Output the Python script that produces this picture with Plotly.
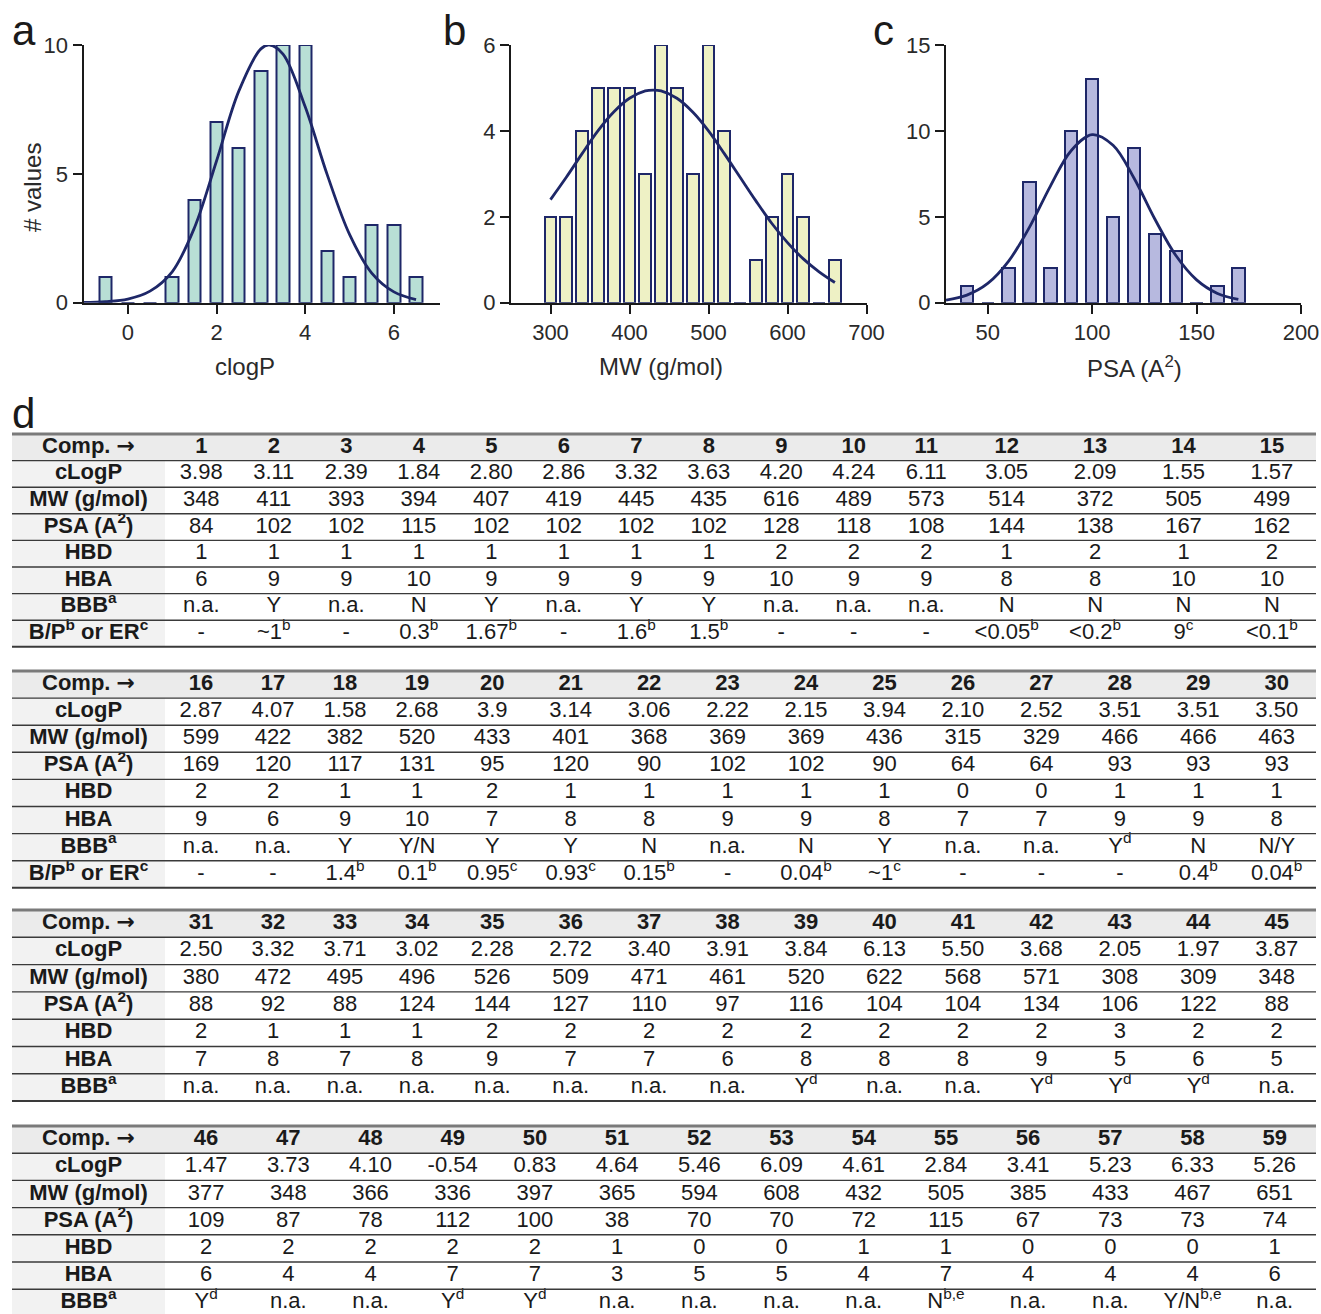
import plotly.graph_objects as go

W, H = 1321, 1314

# ---------------- histogram data ----------------
clogp_bin_centers = [-0.5, 0.0, 0.5, 1.0, 1.5, 2.0, 2.5, 3.0, 3.5, 4.0, 4.5, 5.0, 5.5, 6.0, 6.5]
clogp_counts = [1, 0, 0, 1, 4, 7, 6, 9, 10, 10, 2, 1, 3, 3, 1]
clogp_fit_x = [-1.0, -0.5, 0.0, 0.5, 1.0, 1.5, 2.0, 2.5, 3.0, 3.2, 3.5, 4.0, 4.5, 5.0, 5.5, 6.0, 6.5]
clogp_fit_y = [0.01, 0.04, 0.14, 0.45, 1.2, 2.9, 5.5, 8.2, 9.85, 10.0, 9.65, 7.6, 4.95, 2.65, 1.15, 0.42, 0.12]

mw_bin_centers = [300, 320, 340, 360, 380, 400, 420, 440, 460, 480, 500, 520, 540, 560, 580, 600, 620, 640, 660]
mw_counts = [2, 2, 4, 5, 5, 5, 3, 6, 5, 3, 6, 4, 0, 1, 2, 3, 2, 0, 1]
mw_fit_x = [300, 320, 340, 360, 380, 400, 420, 430, 440, 460, 480, 500, 520, 540, 560, 580, 600, 620, 640, 660]
mw_fit_y = [2.4, 2.92, 3.47, 4.0, 4.44, 4.76, 4.93, 4.95, 4.93, 4.76, 4.44, 4.0, 3.47, 2.92, 2.37, 1.85, 1.4, 1.02, 0.72, 0.47]

psa_bin_centers = [40, 50, 60, 70, 80, 90, 100, 110, 120, 130, 140, 150, 160, 170]
psa_counts = [1, 0, 2, 7, 2, 10, 13, 5, 9, 4, 3, 0, 1, 2]
psa_fit_x = [30, 40, 50, 60, 70, 80, 90, 100, 110, 120, 130, 140, 150, 160, 170]
psa_fit_y = [0.15, 0.44, 1.12, 2.42, 4.4, 6.79, 8.86, 9.78, 9.16, 7.26, 4.87, 2.76, 1.33, 0.54, 0.19]

# ---------------- table data ----------------
comp_ids = list(range(1, 60))
clogp_vals = ["3.98", "3.11", "2.39", "1.84", "2.80", "2.86", "3.32", "3.63", "4.20", "4.24", "6.11", "3.05", "2.09", "1.55", "1.57",
              "2.87", "4.07", "1.58", "2.68", "3.9", "3.14", "3.06", "2.22", "2.15", "3.94", "2.10", "2.52", "3.51", "3.51", "3.50",
              "2.50", "3.32", "3.71", "3.02", "2.28", "2.72", "3.40", "3.91", "3.84", "6.13", "5.50", "3.68", "2.05", "1.97", "3.87",
              "1.47", "3.73", "4.10", "-0.54", "0.83", "4.64", "5.46", "6.09", "4.61", "2.84", "3.41", "5.23", "6.33", "5.26"]
mw_vals = [348, 411, 393, 394, 407, 419, 445, 435, 616, 489, 573, 514, 372, 505, 499,
           599, 422, 382, 520, 433, 401, 368, 369, 369, 436, 315, 329, 466, 466, 463,
           380, 472, 495, 496, 526, 509, 471, 461, 520, 622, 568, 571, 308, 309, 348,
           377, 348, 366, 336, 397, 365, 594, 608, 432, 505, 385, 433, 467, 651]
psa_vals = [84, 102, 102, 115, 102, 102, 102, 102, 128, 118, 108, 144, 138, 167, 162,
            169, 120, 117, 131, 95, 120, 90, 102, 102, 90, 64, 64, 93, 93, 93,
            88, 92, 88, 124, 144, 127, 110, 97, 116, 104, 104, 134, 106, 122, 88,
            109, 87, 78, 112, 100, 38, 70, 70, 72, 115, 67, 73, 73, 74]
hbd_vals = [1, 1, 1, 1, 1, 1, 1, 1, 2, 2, 2, 1, 2, 1, 2,
            2, 2, 1, 1, 2, 1, 1, 1, 1, 1, 0, 0, 1, 1, 1,
            2, 1, 1, 1, 2, 2, 2, 2, 2, 2, 2, 2, 3, 2, 2,
            2, 2, 2, 2, 2, 1, 0, 0, 1, 1, 0, 0, 0, 1]
hba_vals = [6, 9, 9, 10, 9, 9, 9, 9, 10, 9, 9, 8, 8, 10, 10,
            9, 6, 9, 10, 7, 8, 8, 9, 9, 8, 7, 7, 9, 9, 8,
            7, 8, 7, 8, 9, 7, 7, 6, 8, 8, 8, 9, 5, 6, 5,
            6, 4, 4, 7, 7, 3, 5, 5, 4, 7, 4, 4, 4, 6]
bbb_vals = ["n.a.", "Y", "n.a.", "N", "Y", "n.a.", "Y", "Y", "n.a.", "n.a.", "n.a.", "N", "N", "N", "N",
            "n.a.", "n.a.", "Y", "Y/N", "Y", "Y", "N", "n.a.", "N", "Y", "n.a.", "n.a.", "Y<sup>d</sup>", "N", "N/Y",
            "n.a.", "n.a.", "n.a.", "n.a.", "n.a.", "n.a.", "n.a.", "n.a.", "Y<sup>d</sup>", "n.a.", "n.a.", "Y<sup>d</sup>", "Y<sup>d</sup>", "Y<sup>d</sup>", "n.a.",
            "Y<sup>d</sup>", "n.a.", "n.a.", "Y<sup>d</sup>", "Y<sup>d</sup>", "n.a.", "n.a.", "n.a.", "n.a.", "N<sup>b,e</sup>", "n.a.", "n.a.", "Y/N<sup>b,e</sup>", "n.a."]
bp_er_vals = ["-", "~1<sup>b</sup>", "-", "0.3<sup>b</sup>", "1.67<sup>b</sup>", "-", "1.6<sup>b</sup>", "1.5<sup>b</sup>", "-", "-", "-",
              "<0.05<sup>b</sup>", "<0.2<sup>b</sup>", "9<sup>c</sup>", "<0.1<sup>b</sup>",
              "-", "-", "1.4<sup>b</sup>", "0.1<sup>b</sup>", "0.95<sup>c</sup>", "0.93<sup>c</sup>", "0.15<sup>b</sup>", "-",
              "0.04<sup>b</sup>", "~1<sup>c</sup>", "-", "-", "-", "0.4<sup>b</sup>", "0.04<sup>b</sup>"]
row_labels = ["Comp. <span style=\"font-family:DejaVu Sans\">\u2192</span>", "cLogP", "MW (g/mol)", "PSA (A<sup>2</sup>)", "HBD", "HBA",
              "BBB<sup>a</sup>", "B/P<sup>b</sup> or ER<sup>c</sup>"]

# ---------------- styles ----------------
FONT = "Liberation Sans, Arial, Helvetica, sans-serif"
NARROW = "Liberation Sans Narrow, Arial Narrow, Liberation Sans, Arial, sans-serif"
NAVY = "#1e2768"
INK = "#1a1a1a"

fig = go.Figure()

panels = [
    dict(x=clogp_bin_centers, y=clogp_counts, fx=clogp_fit_x, fy=clogp_fit_y, fill="#b8dfd5", bw=0.28,
         xdom=(83.5, 440), xr=(-1, 7.04), xt=[0, 2, 4, 6], yr=(0, 10), yt=[0, 5, 10]),
    dict(x=mw_bin_centers, y=mw_counts, fx=mw_fit_x, fy=mw_fit_y, fill="#eef1c5", bw=14.8,
         xdom=(511, 866.5), xr=(250, 700), xt=[300, 400, 500, 600, 700], yr=(0, 6), yt=[0, 2, 4, 6]),
    dict(x=psa_bin_centers, y=psa_counts, fx=psa_fit_x, fy=psa_fit_y, fill="#b7b9df", bw=5.9,
         xdom=(946, 1301), xr=(30, 200), xt=[50, 100, 150, 200], yr=(0, 15), yt=[0, 5, 10, 15]),
]
Y_TOP, Y_BOT = 45, 302.7

for k, p in enumerate(panels, start=1):
    xa = "x" if k == 1 else f"x{k}"
    ya = "y" if k == 1 else f"y{k}"
    fig.add_trace(go.Bar(x=p["x"], y=p["y"], width=p["bw"], marker=dict(color=p["fill"], line=dict(color=NAVY, width=2)),
                         xaxis=xa, yaxis=ya, showlegend=False, hoverinfo="skip"))
    fig.add_trace(go.Scatter(x=p["fx"], y=p["fy"], mode="lines", line=dict(color=NAVY, width=2.8, shape="spline"),
                             xaxis=xa, yaxis=ya, showlegend=False, hoverinfo="skip"))
    axcommon = dict(showline=True, linecolor=INK, linewidth=2, ticks="outside", ticklen=9, tickwidth=2,
                    tickcolor=INK, showgrid=False, zeroline=False, tickfont=dict(family=FONT, size=22, color="#2a2a2a"))
    fig.layout[("xaxis" if k == 1 else f"xaxis{k}")] = dict(
        domain=[p["xdom"][0] / W, p["xdom"][1] / W], range=list(p["xr"]), tickvals=p["xt"],
        anchor=ya, **axcommon)
    fig.layout[("yaxis" if k == 1 else f"yaxis{k}")] = dict(
        domain=[1 - Y_BOT / H, 1 - Y_TOP / H], range=list(p["yr"]), tickvals=p["yt"],
        anchor=xa, **axcommon)

# axis titles and panel letters
ann = []
for txt, cx in [("clogP", 245), ("MW (g/mol)", 661), ("PSA (A<sup>2</sup>)", 1134)]:
    ann.append(dict(text=txt, x=cx / W, y=1 - 367 / H, xref="paper", yref="paper", showarrow=False,
                    xanchor="center", yanchor="middle", font=dict(family=FONT, size=24, color="#2a2a2a")))
ann.append(dict(text="# values", x=32 / W, y=1 - 188 / H, xref="paper", yref="paper", showarrow=False,
                textangle=-90, xanchor="center", yanchor="middle", font=dict(family=FONT, size=24, color="#2a2a2a")))
for letter, lx, cy in [("a", 10, 31), ("b", 441, 31), ("c", 871, 31), ("d", 10, 413)]:
    ann.append(dict(text=letter, x=lx / W, y=1 - cy / H, xref="paper", yref="paper", showarrow=False,
                    xanchor="left", yanchor="middle", font=dict(family=FONT, size=42, color=INK)))

# ---------------- table (drawn on a hidden pixel-scaled axis) ----------------
fig.layout["xaxis4"] = dict(domain=[0, 1], range=[0, W], visible=False, anchor="y4", fixedrange=True)
fig.layout["yaxis4"] = dict(domain=[0, 1], range=[H, 0], visible=False, anchor="x4", fixedrange=True)

TBL_L, TBL_R, LBL_R = 12, 1316, 165
blocks = [
    dict(first=0, last=15, nrows=8, top=434, rh=26.6, widths=[72.5] * 11 + [88.4] * 4),
    dict(first=15, last=30, nrows=8, top=671, rh=27.1, widths=[72] * 4 + [78.45] * 11),
    dict(first=30, last=45, nrows=7, top=910, rh=27.3, widths=[72] * 4 + [78.45] * 11),
    dict(first=45, last=59, nrows=7, top=1126, rh=27.2, widths=[82.2] * 14),
]
rows_data = [["<b>%d</b>" % c for c in comp_ids], clogp_vals, mw_vals, psa_vals, hbd_vals, hba_vals, bbb_vals, bp_er_vals]

shapes = []
for b in blocks:
    top, rh, n = b["top"], b["rh"], b["nrows"]
    bottom = top + n * rh
    shapes.append(dict(type="rect", xref="x4", yref="y4", x0=TBL_L, x1=TBL_R, y0=top, y1=top + rh,
                       fillcolor="#ebebeb", line=dict(width=0), layer="below"))
    shapes.append(dict(type="rect", xref="x4", yref="y4", x0=TBL_L, x1=LBL_R, y0=top + rh, y1=bottom,
                       fillcolor="#f2f2f2", line=dict(width=0), layer="below"))
    shapes.append(dict(type="line", xref="x4", yref="y4", x0=TBL_L, x1=TBL_R, y0=top, y1=top,
                       line=dict(color="#7a7a7a", width=3)))
    for r in range(1, n):
        yy = top + r * rh
        shapes.append(dict(type="line", xref="x4", yref="y4", x0=TBL_L, x1=TBL_R, y0=yy, y1=yy,
                           line=dict(color="#3a3a3a", width=1.4)))
    shapes.append(dict(type="line", xref="x4", yref="y4", x0=TBL_L, x1=TBL_R, y0=bottom, y1=bottom,
                       line=dict(color="#3a3a3a", width=2)))

    centers = []
    acc = LBL_R
    for w in b["widths"]:
        centers.append(acc + w / 2)
        acc += w
    xs, ys, ts = [], [], []
    lx, ly, lt = [], [], []
    for r in range(n):
        yc = top + (r + 0.5) * rh
        lx.append((TBL_L + LBL_R) / 2)
        ly.append(yc)
        lt.append("<b>" + row_labels[r] + "</b>")
        for j, i in enumerate(range(b["first"], b["last"])):
            xs.append(centers[j])
            ys.append(yc)
            ts.append(str(rows_data[r][i]))
    fig.add_trace(go.Scatter(x=lx, y=ly, text=lt, mode="text", textposition="middle center",
                             textfont=dict(family=NARROW, size=22, color=INK),
                             xaxis="x4", yaxis="y4", showlegend=False, hoverinfo="skip", cliponaxis=False))
    fig.add_trace(go.Scatter(x=xs, y=ys, text=ts, mode="text", textposition="middle center",
                             textfont=dict(family=NARROW, size=22, color=INK),
                             xaxis="x4", yaxis="y4", showlegend=False, hoverinfo="skip", cliponaxis=False))

fig.update_layout(
    width=W, height=H, margin=dict(l=0, r=0, t=0, b=0),
    paper_bgcolor="white", plot_bgcolor="rgba(0,0,0,0)",
    template="none", showlegend=False, bargap=0,
    annotations=ann, shapes=shapes,
    font=dict(family=FONT, color=INK),
)

fig.write_html("out.html", config={"displayModeBar": False},
               post_script="document.body.style.margin='0';document.body.style.overflow='hidden';")
